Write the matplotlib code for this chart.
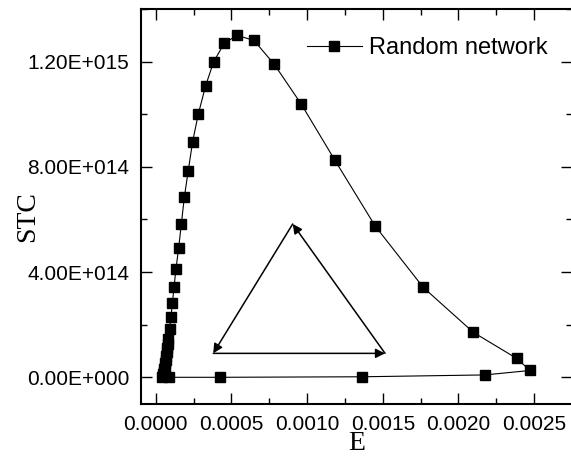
import matplotlib
matplotlib.use('Agg')
import matplotlib.pyplot as plt
from matplotlib.ticker import MultipleLocator, AutoMinorLocator, FuncFormatter

plt.rcParams['font.family'] = ['Liberation Sans', 'DejaVu Sans']

# data (loop: up the left branch, over the peak, back along the bottom)
e_vals = [0.000043, 0.000046, 0.000050, 0.000053, 0.000057, 0.000060, 0.000063,
          0.000067, 0.000070, 0.000073, 0.000076, 0.000079, 0.000082,
          0.000092, 0.000101, 0.000110, 0.000121, 0.000134, 0.000152, 0.000169,
          0.000189, 0.000215, 0.000244, 0.000281, 0.000330, 0.000383, 0.000453,
          0.000537, 0.000649, 0.000783, 0.000960, 0.001184, 0.001450, 0.001767,
          0.002098, 0.002384, 0.002473,
          0.002175, 0.001365, 0.000425, 0.000090]
stc_vals = [0.0, 0.5e13, 1.2e13, 2.0e13, 3.0e13, 4.1e13, 5.3e13,
            6.6e13, 8.0e13, 9.5e13, 1.11e14, 1.28e14, 1.46e14,
            1.85e14, 2.30e14, 2.81e14, 3.42e14, 4.13e14, 4.93e14, 5.82e14,
            6.84e14, 7.86e14, 8.96e14, 1.000e15, 1.109e15, 1.200e15, 1.270e15,
            1.300e15, 1.281e15, 1.190e15, 1.040e15, 8.25e14, 5.75e14, 3.42e14,
            1.71e14, 7.2e13, 2.6e13,
            9e12, 2e12, 0.0, 0.0]

# direction triangle (bottom-left, bottom-right, apex)
tri_e = [0.00038, 0.001515, 0.000905]
tri_stc = [0.91e14, 0.91e14, 5.83e14]

fig = plt.figure(figsize=(5.71, 4.68), dpi=100)
ax = fig.add_axes([0.24616, 0.13761, 1.0018 - 0.24616, 0.98056 - 0.13761])

ax.plot(e_vals, stc_vals, color='black', lw=0.8, marker='s', ms=7,
        mfc='black', mec='black', label='Random network')

arrow = dict(arrowstyle='-|>', color='black', lw=1.1, mutation_scale=14,
             shrinkA=0, shrinkB=0)
# bottom edge -> right, right edge -> apex, left edge -> bottom-left
for a, b in [(0, 1), (1, 2), (2, 0)]:
    ax.annotate('', xy=(tri_e[b], tri_stc[b]), xytext=(tri_e[a], tri_stc[a]),
                arrowprops=arrow)

ax.set_xlim(-0.0001, 0.00275)
ax.set_ylim(-1e14, 1.4e15)

ax.xaxis.set_major_locator(MultipleLocator(0.0005))
ax.xaxis.set_minor_locator(AutoMinorLocator(2))
ax.yaxis.set_major_locator(MultipleLocator(4e14))
ax.yaxis.set_minor_locator(AutoMinorLocator(2))
ax.xaxis.set_major_formatter(FuncFormatter(lambda v, p: '%.4f' % v))


def origin_sci(v, p):
    if abs(v) < 1e-9:
        return '0.00E+000'
    m, ex = ('%.2E' % v).split('E')
    return '%sE%s%03d' % (m, '+' if int(ex) >= 0 else '-', abs(int(ex)))


ax.yaxis.set_major_formatter(FuncFormatter(origin_sci))

ax.tick_params(which='both', direction='in', top=True, right=True, width=1,
               labelsize=15, pad=8)
ax.tick_params(which='major', length=8)
ax.tick_params(which='minor', length=4.5)
for s in ax.spines.values():
    s.set_linewidth(1.5)

ax.set_xlabel('E', family=['Liberation Serif', 'DejaVu Serif'], fontsize=20, labelpad=-2)
ax.set_ylabel('STC', family=['Liberation Serif', 'DejaVu Serif'], fontsize=20)
ax.yaxis.set_label_coords(-0.233, 0.474)

ax.legend(loc='center left', bbox_to_anchor=(0.3857, 0.9006), frameon=False,
          fontsize=17, numpoints=1, handlelength=2.33, handletextpad=0.3,
          borderpad=0, borderaxespad=0)

fig.savefig('out.png', dpi=100)
